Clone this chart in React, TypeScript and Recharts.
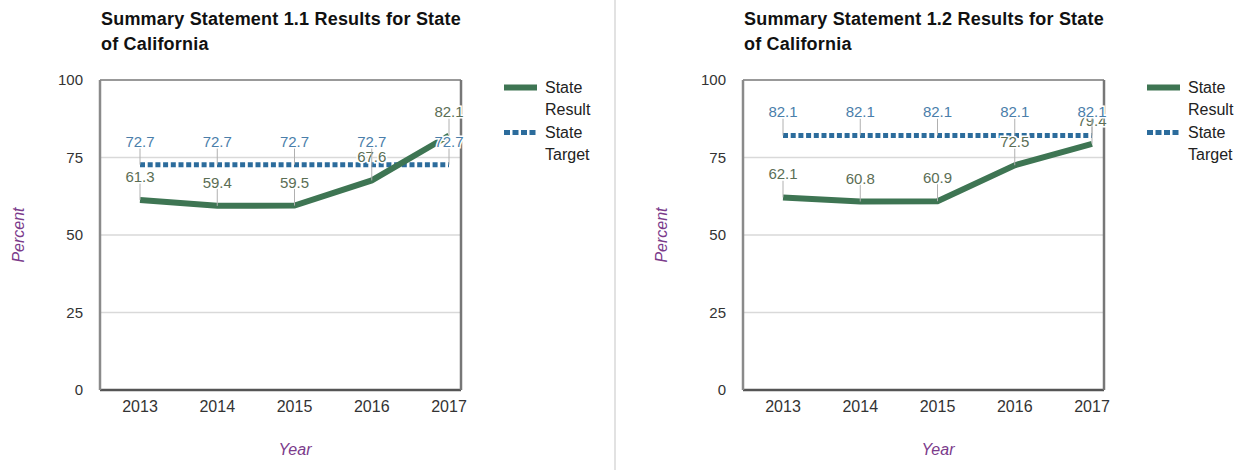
import { LineChart, Line, XAxis, YAxis, CartesianGrid, LabelList } from "recharts";

const years = ["2013", "2014", "2015", "2016", "2017"];
const ss11Result = [61.3, 59.4, 59.5, 67.6, 82.1];
const ss11Target = [72.7, 72.7, 72.7, 72.7, 72.7];
const ss12Result = [62.1, 60.8, 60.9, 72.5, 79.4];
const ss12Target = [82.1, 82.1, 82.1, 82.1, 82.1];
const yTicks = [0, 25, 50, 75, 100];

const GREEN = "#3e7553";
const BLUE = "#2c6c9c";
const FONT = "Arial, 'Liberation Sans', sans-serif";
const DASH = "5 2.7";

const leaderLabel = (color: string) => (props: any) => {
  const { x, y, value } = props;
  if (x == null || y == null) return null;
  return (
    <g>
      <line x1={x} x2={x} y1={y - 17} y2={y} stroke="#b0b0b0" strokeWidth={1} />
      <text
        x={x}
        y={y - 18}
        textAnchor="middle"
        fill={color}
        fontSize={15}
        fontFamily={FONT}
        stroke="#fff"
        strokeWidth={3}
        paintOrder="stroke"
      >
        {value}
      </text>
    </g>
  );
};

const LegendBox = () => (
  <div style={{ position: "absolute", left: 504, top: 77, fontFamily: FONT, fontSize: 16, color: "#222", lineHeight: "22px" }}>
    <div style={{ display: "flex", alignItems: "flex-start", marginBottom: 1 }}>
      <svg width={41} height={22}>
        <line x1={0} x2={33} y1={10.5} y2={10.5} stroke={GREEN} strokeWidth={6} />
      </svg>
      <div>State<br />Result</div>
    </div>
    <div style={{ display: "flex", alignItems: "flex-start" }}>
      <svg width={41} height={22}>
        <line x1={0} x2={33} y1={10.5} y2={10.5} stroke={BLUE} strokeWidth={5} strokeDasharray="6 2.5" />
      </svg>
      <div>State<br />Target</div>
    </div>
  </div>
);

function Panel({ left, title, result, target }: { left: number; title: string[]; result: number[]; target: number[] }) {
  const data = years.map((year, i) => ({ year, result: result[i], target: target[i] }));
  return (
    <div style={{ position: "absolute", left, top: 0, width: 600, height: 470 }}>
      <div
        style={{
          position: "absolute",
          left: 101,
          top: 7,
          fontFamily: FONT,
          fontWeight: "bold",
          fontSize: 18,
          letterSpacing: 0.2,
          lineHeight: "25px",
          color: "#111",
          whiteSpace: "nowrap",
        }}
      >
        {title[0]}
        <br />
        {title[1]}
      </div>
      <LineChart width={600} height={470} data={data} margin={{ top: 79, right: 138, bottom: 0, left: 0 }}>
        <CartesianGrid vertical={false} stroke="#d9d9d9" strokeWidth={1.5} />
        <XAxis
          dataKey="year"
          height={80}
          padding={{ left: 40, right: 12 }}
          tickLine={false}
          tickSize={0}
          tickMargin={11}
          axisLine={{ stroke: "#555", strokeWidth: 2.5 }}
          tick={{ fill: "#333", fontSize: 16, fontFamily: FONT }}
        />
        <XAxis
          xAxisId="top"
          dataKey="year"
          orientation="top"
          height={1}
          padding={{ left: 40, right: 12 }}
          tick={false}
          tickLine={false}
          axisLine={{ stroke: "#999", strokeWidth: 2 }}
        />
        <YAxis
          width={100}
          domain={[0, 100]}
          ticks={yTicks}
          tickLine={false}
          tickSize={0}
          tickMargin={17}
          axisLine={{ stroke: "#8a8a8a", strokeWidth: 2.5 }}
          tick={{ fill: "#333", fontSize: 15, fontFamily: FONT }}
        />
        <YAxis
          yAxisId="right"
          orientation="right"
          width={1}
          domain={[0, 100]}
          ticks={yTicks}
          tick={false}
          tickLine={false}
          axisLine={{ stroke: "#777", strokeWidth: 2.5 }}
        />
        <Line dataKey="target" stroke={BLUE} strokeWidth={5} strokeDasharray={DASH} dot={false} isAnimationActive={false} />
        <Line
          dataKey="result"
          xAxisId="top"
          yAxisId="right"
          stroke="none"
          dot={false}
          activeDot={false}
          isAnimationActive={false}
        >
          <LabelList dataKey="result" content={leaderLabel("#5b6e55")} />
        </Line>
        <Line
          dataKey="target"
          xAxisId="top"
          yAxisId="right"
          stroke="none"
          dot={false}
          activeDot={false}
          isAnimationActive={false}
        >
          <LabelList dataKey="target" content={leaderLabel("#4a7eaa")} />
        </Line>
        <Line dataKey="result" stroke={GREEN} strokeWidth={6} dot={false} isAnimationActive={false} />
      </LineChart>
      <LegendBox />
      <div
        style={{
          position: "absolute",
          left: 19,
          top: 235,
          transform: "translate(-50%, -50%) rotate(-90deg)",
          fontFamily: FONT,
          fontStyle: "italic",
          fontSize: 16,
          color: "#7b3b8b",
        }}
      >
        Percent
      </div>
      <div
        style={{
          position: "absolute",
          left: 295,
          top: 450,
          transform: "translate(-50%, -50%)",
          fontFamily: FONT,
          fontStyle: "italic",
          fontSize: 16,
          color: "#7b3b8b",
        }}
      >
        Year
      </div>
    </div>
  );
}

export default function App() {
  return (
    <div style={{ position: "absolute", left: 0, top: 0, width: 1242, height: 470, background: "#fff", overflow: "hidden" }}>
      <Panel left={0} title={["Summary Statement 1.1 Results for State", "of California"]} result={ss11Result} target={ss11Target} />
      <div style={{ position: "absolute", left: 614, top: 0, width: 2, height: 470, background: "#e2e2e2" }} />
      <Panel left={643} title={["Summary Statement 1.2 Results for State", "of California"]} result={ss12Result} target={ss12Target} />
    </div>
  );
}
